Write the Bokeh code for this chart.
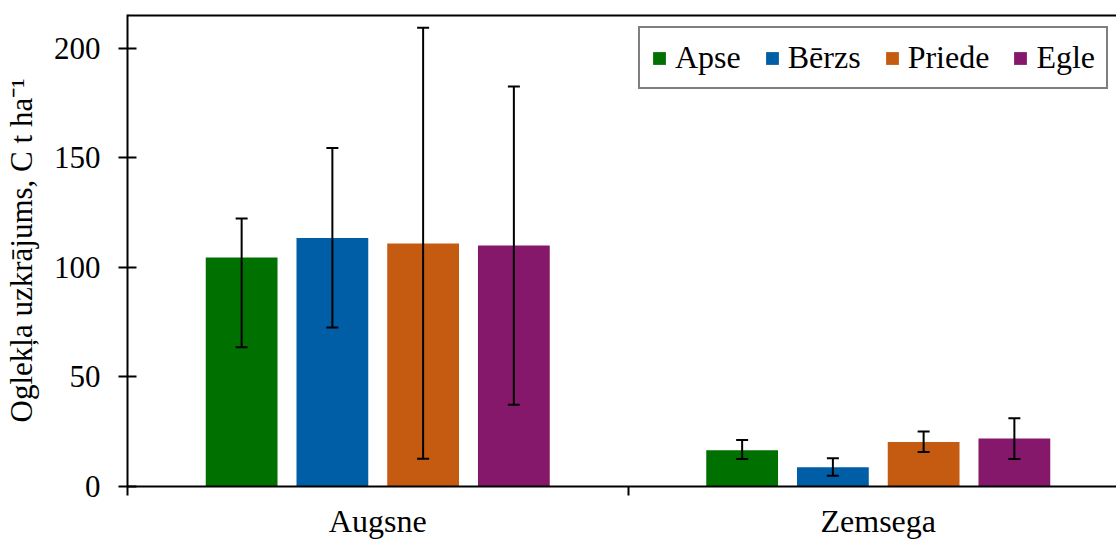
from bokeh.plotting import figure
from bokeh.models import (Range1d, FixedTicker, ColumnDataSource,
                          Legend, LegendItem)
from bokeh.embed import file_html
from bokeh.resources import INLINE

# Carbon stock by tree species, soil (Augsne) and forest floor (Zemsega)
groups = ["Augsne", "Zemsega"]
species = ["Apse", "Bērzs", "Priede", "Egle"]
colors = ["#007000", "#005EA6", "#C55A11", "#85186B"]

augsne_mean = [104.5, 113.5, 110.9, 110.0]
augsne_upper = [122.4, 154.5, 209.4, 182.6]
augsne_lower = [63.6, 72.6, 12.7, 37.3]

zemsega_mean = [16.5, 8.8, 20.3, 21.9]
zemsega_upper = [21.2, 12.9, 25.1, 31.2]
zemsega_lower = [12.6, 4.9, 15.7, 12.6]

y_ticks = [0, 50, 100, 150, 200]
y_label = "Oglekļa uzkrājums, C t ha⁻¹"

FONT = "Liberation Serif"
Y_MAX = 215.5
BAR_STEP = 0.1813   # distance between neighbouring bars inside a group
BAR_WIDTH = 0.1434

means = [augsne_mean, zemsega_mean]
uppers = [augsne_upper, zemsega_upper]
lowers = [augsne_lower, zemsega_lower]

p = figure(width=1116, height=541, output_backend="svg", toolbar_location=None,
           x_range=Range1d(0, 1.976), y_range=Range1d(0, Y_MAX),
           min_border_left=124, min_border_right=0, min_border_top=14,
           min_border_bottom=53)
p.outline_line_color = None
p.grid.visible = False

legend_items = []
for k, sp in enumerate(species):
    xs = [g + 0.5 + (k - 1.5) * BAR_STEP for g in range(len(groups))]
    src = ColumnDataSource(dict(
        x=xs,
        top=[means[g][k] for g in range(len(groups))],
        upper=[uppers[g][k] for g in range(len(groups))],
        lower=[lowers[g][k] for g in range(len(groups))],
    ))
    r = p.vbar(x="x", top="top", bottom=0, width=BAR_WIDTH, source=src,
               fill_color=colors[k], line_color=None)
    legend_items.append(LegendItem(label=sp, renderers=[r]))
    # error bars: stem plus caps
    p.segment(x0="x", y0="lower", x1="x", y1="upper", source=src,
              line_color="black", line_width=2)
    p.scatter(x="x", y="upper", source=src, marker="dash", size=12,
              line_color="black", line_width=2)
    p.scatter(x="x", y="lower", source=src, marker="dash", size=12,
              line_color="black", line_width=2)

# top border of the plot area
p.hspan(y=[Y_MAX], line_color="black", line_width=4)

# y axis
ya = p.yaxis[0]
ya.ticker = FixedTicker(ticks=y_ticks, minor_ticks=[])
ya.axis_label = y_label
ya.axis_label_text_font = FONT
ya.axis_label_text_font_size = "31px"
ya.axis_label_text_font_style = "normal"
ya.axis_label_text_color = "black"
ya.axis_label_standoff = 12
ya.major_label_text_font = FONT
ya.major_label_text_font_size = "31px"
ya.major_label_text_color = "black"
ya.major_label_standoff = 18
ya.major_tick_in = 9
ya.major_tick_out = 9
ya.axis_line_width = 2
ya.axis_line_color = "black"
ya.major_tick_line_width = 2
ya.major_tick_line_color = "black"

# x axis: group names centred, separators at group boundaries
xa = p.xaxis[0]
xa.ticker = FixedTicker(ticks=[g + 0.5 for g in range(len(groups))],
                        minor_ticks=list(range(len(groups) + 1)))
xa.major_label_overrides = {g + 0.5: name for g, name in enumerate(groups)}
xa.major_label_text_font = FONT
xa.major_label_text_font_size = "32px"
xa.major_label_text_color = "black"
xa.major_label_standoff = 7
xa.major_tick_in = 0
xa.major_tick_out = 0
xa.minor_tick_in = 0
xa.minor_tick_out = 9
xa.minor_tick_line_width = 2
xa.minor_tick_line_color = "black"
xa.axis_line_width = 2
xa.axis_line_color = "black"

legend = Legend(items=legend_items, orientation="horizontal",
                location=(511, 397))
legend.label_text_font = FONT
legend.label_text_font_size = "32px"
legend.label_text_color = "black"
legend.glyph_width = 16
legend.glyph_height = 16
legend.label_standoff = 8
legend.spacing = 23
legend.padding = 11
legend.margin = 0
legend.border_line_color = "black"
legend.border_line_width = 2
p.add_layout(legend)

open("out.html", "w").write(file_html(p, INLINE))
